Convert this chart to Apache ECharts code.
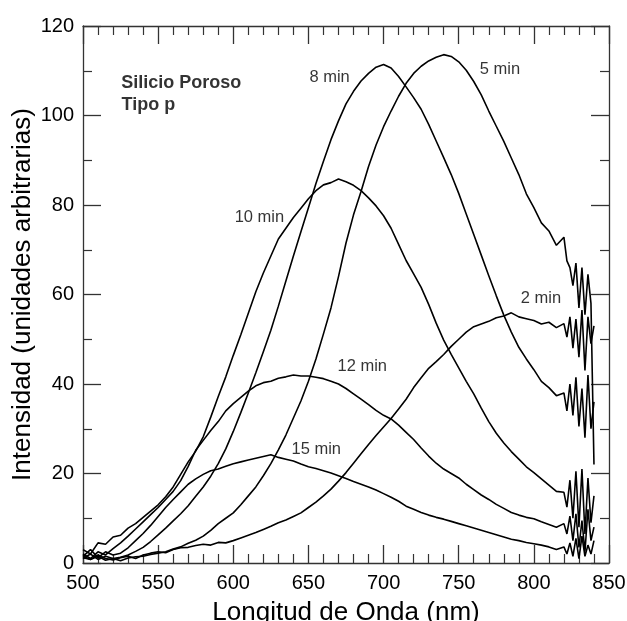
<!DOCTYPE html>
<html>
<head>
<meta charset="utf-8">
<script src="https://cdn.jsdelivr.net/npm/echarts@6/dist/echarts.min.js"></script>
<style>
html,body{margin:0;padding:0;background:#fff;overflow:hidden;}
#c{width:627px;height:621px;}
</style>
</head>
<body>
<div id="c"></div>
<script>
// wavelengths (nm): 500..820 every 5, then 822..840 every 2
const wavelengths = [500,505,510,515,520,525,530,535,540,545,550,555,560,565,570,575,580,585,590,595,600,605,610,615,620,625,630,635,640,645,650,655,660,665,670,675,680,685,690,695,700,705,710,715,720,725,730,735,740,745,750,755,760,765,770,775,780,785,790,795,800,805,810,815,820,822,824,826,828,830,832,834,836,838,840];

const min2 = [1.5,0.8,1.8,1.0,0.7,1.2,1.5,1.0,1.8,2.2,2.5,2.3,3.0,3.4,3.5,3.9,4.2,4.0,4.6,4.5,5.0,5.6,6.2,6.8,7.5,8.2,9.0,9.6,10.4,11.2,12.4,13.6,15.0,16.5,18.3,20.2,22.3,24.4,26.5,28.5,30.4,32.3,34.4,36.6,39.2,41.4,43.5,45.0,46.6,48.4,50.0,51.6,52.8,53.4,54.0,54.8,55.2,55.9,55.0,54.6,54.2,53.4,53.8,52.6,53.5,50.5,55.0,48.0,54.5,46.0,56.5,43.0,55.0,49.0,53.0];

const min5 = [1.2,0.8,1.5,0.6,1.0,0.5,1.1,1.4,1.5,1.9,2.2,2.5,3.1,3.6,4.4,5.1,6.0,7.3,8.8,10.0,11.2,13.0,15.0,17.0,19.5,22.2,25.3,28.6,32.4,36.2,40.6,45.6,51.2,57.0,64.0,71.5,77.8,83.0,88.6,93.4,97.5,101.0,104.3,107.2,109.4,111.0,112.2,113.0,113.6,113.2,112.0,110.1,107.6,104.6,101.0,97.6,94.2,90.5,86.8,82.5,79.4,76.0,74.2,71.0,72.8,67.5,66.0,62.0,67.0,57.0,66.0,55.5,64.5,58.0,22.0];

const min8 = [1.0,2.0,0.8,1.5,1.0,1.3,1.8,2.6,3.5,4.8,6.3,7.8,9.4,11.0,12.8,14.9,17.0,19.4,22.2,25.5,29.4,33.6,38.0,42.5,47.2,52.0,57.4,63.0,68.6,74.0,79.4,84.8,89.8,94.6,98.8,102.6,105.4,107.7,109.4,110.8,111.4,110.6,108.7,106.4,104.0,101.4,98.0,94.3,90.6,86.8,82.6,78.0,73.4,68.8,64.2,59.7,55.4,51.6,48.2,45.6,43.2,40.6,39.2,37.4,38.0,34.0,40.0,33.0,41.5,30.5,39.0,28.0,42.0,30.0,36.0];

const min10 = [3.0,2.0,4.5,4.2,5.8,6.2,7.8,8.8,10.2,11.6,13.0,14.8,17.0,19.8,22.6,25.0,28.2,32.6,37.2,41.6,46.4,51.0,55.8,60.6,64.8,68.6,72.4,74.8,77.2,79.3,81.4,83.2,84.5,85.0,85.8,85.2,84.4,83.2,81.6,79.8,77.6,74.8,71.2,67.6,64.6,61.6,57.8,53.6,49.8,46.6,43.6,40.6,37.8,34.6,31.6,29.0,26.8,24.9,23.2,21.5,20.2,18.8,17.4,16.0,15.8,12.5,18.5,10.0,20.5,8.0,21.0,6.5,19.0,9.0,15.0];

const min12 = [2.0,1.0,2.5,1.8,3.2,4.5,6.0,7.6,9.2,10.8,12.4,14.2,16.0,18.4,21.6,25.2,27.4,29.6,31.6,34.0,35.6,37.0,38.4,39.6,40.3,40.6,41.3,41.6,42.0,41.8,41.8,41.5,41.2,40.6,40.0,39.0,37.8,36.6,35.4,34.1,33.0,32.2,30.8,29.2,27.6,25.7,23.9,22.3,21.0,20.0,19.0,17.6,16.4,15.2,14.2,13.1,12.2,11.3,10.7,10.2,9.9,9.2,8.6,8.0,8.8,6.5,10.5,5.0,11.0,3.5,9.5,2.5,12.0,5.0,8.0];

const min15 = [1.5,3.0,1.2,2.5,1.8,2.2,3.4,5.0,6.6,8.4,10.4,12.4,14.2,15.9,17.6,18.8,19.8,20.6,21.0,21.6,22.2,22.6,23.0,23.4,23.8,24.2,23.6,23.2,22.8,22.1,21.5,21.1,20.6,20.1,19.5,18.9,18.2,17.6,17.0,16.3,15.5,14.7,13.8,12.7,12.0,11.3,10.7,10.2,9.8,9.3,8.8,8.3,7.8,7.3,6.8,6.3,5.8,5.3,5.0,4.6,4.3,4.0,3.6,3.0,3.6,2.0,4.5,1.5,5.5,1.0,6.0,1.5,4.0,2.0,5.0];

// curve labels (data coordinates of text centres)
const curveLabelText = ['8 min','5 min','10 min','2 min','12 min','15 min'];
const curveLabelX = [664.1, 777.4, 617.4, 804.7, 685.8, 655.2];
const curveLabelY = [108.6, 110.3, 77.3, 59.2, 44.0, 25.3];

// sample annotation (left anchored)
const sampleText = ['Silicio Poroso','Tipo p'];
const sampleX = [525.1, 525.3];
const sampleY = [107.2, 102.3];

const xTicks = {min: 500, max: 850, interval: 50};
const yTicks = {min: 0, max: 120, interval: 20};

const FONT = 'Liberation Sans, Arial, Helvetica, sans-serif';
const AX = '#333';

function pairs(ys){ return ys.map((v,i)=>[wavelengths[i], v]); }

const curves = [min2, min5, min8, min10, min12, min15];

const baseAxis = {
  axisLine: {show: true, onZero: false, lineStyle: {color: AX, width: 1.3}},
  axisTick: {show: true, inside: true, length: 18, lineStyle: {color: AX, width: 1.3}},
  minorTick: {show: true, length: 9, lineStyle: {color: AX, width: 1.2}},
  splitLine: {show: false},
  minorSplitLine: {show: false}
};

const chart = echarts.init(document.getElementById('c'), null, {renderer: 'canvas'});
const option = {
  animation: false,
  backgroundColor: '#fff',
  grid: {left: 83, right: 18, top: 26, bottom: 58, containLabel: false, outerBoundsMode: 'none'},
  xAxis: [
    Object.assign({}, baseAxis, {
      type: 'value', position: 'bottom', min: xTicks.min, max: xTicks.max, interval: xTicks.interval,
      minorTick: Object.assign({}, baseAxis.minorTick, {splitNumber: 5}),
      axisLabel: {show: true, margin: 10, color: '#000', fontSize: 20, fontFamily: FONT},
      name: 'Longitud de Onda (nm)', nameLocation: 'middle', nameGap: 37, nameMoveOverlap: false,
      nameTextStyle: {color: '#000', fontSize: 26, fontFamily: FONT}
    }),
    Object.assign({}, baseAxis, {
      type: 'value', position: 'top', min: xTicks.min, max: xTicks.max, interval: xTicks.interval,
      minorTick: Object.assign({}, baseAxis.minorTick, {splitNumber: 5}),
      axisLabel: {show: false}
    })
  ],
  yAxis: [
    Object.assign({}, baseAxis, {
      type: 'value', position: 'left', min: yTicks.min, max: yTicks.max, interval: yTicks.interval,
      minorTick: Object.assign({}, baseAxis.minorTick, {splitNumber: 2}),
      axisLabel: {show: true, margin: 9, color: '#000', fontSize: 20, fontFamily: FONT},
      name: 'Intensidad (unidades arbitrarias)', nameLocation: 'middle', nameGap: 47, nameMoveOverlap: false,
      nameTextStyle: {color: '#000', fontSize: 26, fontFamily: FONT}
    }),
    Object.assign({}, baseAxis, {
      type: 'value', position: 'right', min: yTicks.min, max: yTicks.max, interval: yTicks.interval,
      minorTick: Object.assign({}, baseAxis.minorTick, {splitNumber: 2}),
      axisLabel: {show: false}
    })
  ],
  series: curves.map(c => ({
    type: 'line', xAxisIndex: 0, yAxisIndex: 0, data: pairs(c),
    showSymbol: false, symbol: 'none', smooth: false,
    lineStyle: {color: '#000', width: 1.6}, silent: true
  })).concat([
    {
      type: 'scatter', xAxisIndex: 0, yAxisIndex: 0, symbolSize: 1, silent: true,
      itemStyle: {color: 'rgba(0,0,0,0)'},
      data: curveLabelText.map((t,i)=>({value: [curveLabelX[i], curveLabelY[i]], name: t})),
      label: {show: true, position: 'inside', formatter: p => p.name, color: '#000',
              fontSize: 16.5, fontFamily: FONT}
    },
    {
      type: 'scatter', xAxisIndex: 0, yAxisIndex: 0, symbolSize: 1, silent: true,
      itemStyle: {color: 'rgba(0,0,0,0)'},
      data: sampleText.map((t,i)=>({value: [sampleX[i], sampleY[i]], name: t})),
      label: {show: true, position: 'right', distance: 0, formatter: p => p.name, color: '#000',
              fontSize: 18, fontWeight: 'bold', fontFamily: FONT}
    }
  ])
};
chart.setOption(option);
</script>
</body>
</html>
